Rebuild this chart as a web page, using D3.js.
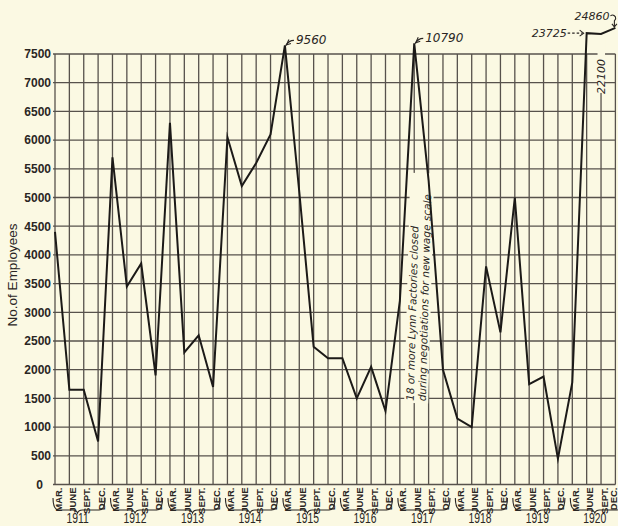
<!DOCTYPE html>
<html>
<head>
<meta charset="utf-8">
<script src="https://cdn.jsdelivr.net/npm/d3@7"></script>
<style>
  html, body { margin: 0; padding: 0; background: #fbf9e3; }
  svg { display: block; }
</style>
</head>
<body>
<svg id="chart" width="618" height="526"></svg>
<script>
// Quarterly number of employees, Lynn shoe factories, 1911-1920
const years = [1911, 1912, 1913, 1914, 1915, 1916, 1917, 1918, 1919, 1920];
const months = ["MAR.", "JUNE", "SEPT.", "DEC."];
const employees = [
  4400, 1650, 1650, 750,     // 1911
  5700, 3450, 3850, 1900,    // 1912
  6300, 2300, 2600, 1700,    // 1913
  6050, 5200, 5600, 6100,    // 1914
  9560, 5100, 2400, 2200,    // 1915
  2200, 1500, 2050, 1280,    // 1916
  3200, 10790, 5300, 2000,   // 1917
  1150, 1000, 3800, 2650,    // 1918
  5000, 1750, 1880, 450,     // 1919
  1780, 23725, 22100, 24860  // 1920
];
const yTicks = d3.range(0, 7501, 500);
const yTitle = "No.of Employees";
const noteLines = ["18 or more Lynn Factories closed", "during negotiations for new wage scale"];
const noteQuarter = "1917 JUNE";

const W = 618, H = 526;
const plotLeft = 55, plotRight = 615.4, plotTop = 54, plotBottom = 484.5;

const paper = "#fbf9e3", ink = "#2a2623", gridInk = "#57524c";

const quarters = [];
years.forEach(yr => months.forEach(m => quarters.push(yr + " " + m)));

const x = d3.scalePoint().domain(quarters).range([plotLeft, plotRight]);
const y = d3.scaleLinear().domain([0, 7500]).range([plotBottom, plotTop]);
// values above the grid are drawn in a compressed band over the top line
const yDraw = d3.scaleLinear()
  .domain([0, 7500, 9500, 11000, 22000, 24000, 25000])
  .range([y(0), y(7500), y(7500) - 8.5, y(7500) - 11, y(7500) - 20, y(7500) - 21, y(7500) - 27]);

const svg = d3.select("#chart");
svg.append("rect").attr("width", W).attr("height", H).attr("fill", paper);

// grid
const grid = svg.append("g").attr("stroke", gridInk).attr("stroke-width", 1.3);
grid.selectAll("line.h").data(yTicks).join("line").attr("class", "h")
  .attr("x1", plotLeft - 2).attr("x2", plotRight)
  .attr("y1", d => y(d)).attr("y2", d => y(d));
grid.selectAll("line.v").data(quarters).join("line").attr("class", "v")
  .attr("x1", d => x(d)).attr("x2", d => x(d))
  .attr("y1", plotTop).attr("y2", plotBottom);

// y axis labels
const yAxis = d3.axisLeft(y).tickValues(yTicks).tickSize(0).tickPadding(3).tickFormat(d3.format("d"));
const yg = svg.append("g").attr("transform", `translate(${plotLeft - 1},0)`).call(yAxis);
yg.select(".domain").remove();
yg.selectAll("text")
  .attr("font-family", "Liberation Sans, Arial, sans-serif")
  .attr("font-size", 12).attr("font-weight", "bold").attr("fill", ink)
  .attr("dx", d => d === 0 ? -8 : 0);

svg.append("text")
  .attr("transform", `translate(17,${y(3650)}) rotate(-90)`)
  .attr("text-anchor", "middle")
  .attr("font-family", "Liberation Sans, Arial, sans-serif")
  .attr("font-size", 13.5).attr("fill", ink)
  .text(yTitle);

// x axis: quarter labels
const xAxis = d3.axisBottom(x).tickSize(0).tickPadding(0).tickFormat(d => d.split(" ")[1]);
const xg = svg.append("g").attr("transform", `translate(0,${plotBottom})`).call(xAxis);
xg.select(".domain").remove();
xg.selectAll("text")
  .attr("font-family", "Liberation Sans, Arial, sans-serif")
  .attr("font-size", 9.5).attr("font-weight", "bold").attr("fill", ink)
  .attr("text-anchor", "end").attr("dy", null).attr("y", null)
  .attr("transform", (d, i) => `translate(${i === quarters.length - 1 ? 1.5 : 6},3) rotate(-90)`);

// year braces and labels
const yearG = svg.append("g");
years.forEach(yr => {
  const x0 = x(yr + " MAR."), x3 = x(yr + " DEC.");
  const l = x0 - 2, r = x3 + 7, c = (x0 + x3) / 2 + 1;
  yearG.append("path")
    .attr("d", `M${l},498 Q${l},510 ${l + 6},510 L${c - 5},510 Q${c - 1},510 ${c},513 Q${c + 1},510 ${c + 5},510 L${r - 6},510 Q${r},510 ${r},498`)
    .attr("fill", "none").attr("stroke", ink).attr("stroke-width", 1.1);
  yearG.append("text")
    .attr("transform", `translate(${c},523) scale(0.74,1)`)
    .attr("text-anchor", "middle")
    .attr("font-family", "Liberation Sans, Arial, sans-serif")
    .attr("font-size", 14).attr("fill", ink)
    .text(yr);
});

// note on the 1917 peak, with a paper ground over the grid
const nx = x(noteQuarter);
const note = svg.append("g").attr("transform", `translate(${nx - 0.5},401) rotate(-88.5)`);
note.append("rect").attr("x", -2).attr("y", -9.5).attr("width", 230).attr("height", 24).attr("fill", paper);
note.selectAll("text").data(noteLines).join("text")
  .attr("x", 0).attr("y", (d, i) => i * 12)
  .attr("font-family", "DejaVu Sans, sans-serif")
  .attr("font-style", "italic").attr("font-size", 10.5).attr("fill", ink)
  .text(d => d);

// off-scale value notes
const offScale = employees.map((v, i) => ({ v, q: quarters[i] })).filter(d => d.v > 7500);
const notes = svg.append("g");
const noteFont = sel => sel.attr("font-family", "DejaVu Sans, sans-serif")
  .attr("font-style", "italic").attr("fill", ink);

offScale.forEach((d, k) => {
  const px = x(d.q), py = yDraw(d.v), label = String(d.v);
  const g = notes.append("g").attr("fill", "none").attr("stroke", ink).attr("stroke-width", 1.1);
  if (k < 2) {
    g.append("path").attr("d", `M${px + 1},${py} Q${px + 4},${py - 5} ${px + 9},${py - 5}`);
    g.append("path").attr("d", `M${px + 4},${py - 6} L${px + 1.5},${py - 0.5} L${px + 6},${py - 2}`);
    notes.append("text").attr("x", px + 11).attr("y", py - 1).attr("font-size", 12).call(noteFont).text(label);
  } else if (d.v > 24000) {
    g.append("path").attr("d", `M${px - 5},${py - 12} q3,-2 5,1 q1,2 -1,4 L${px - 1},${py - 1}`);
    g.append("path").attr("d", `M${px - 3.5},${py - 4} L${px - 1},${py - 1} L${px + 1.5},${py - 4}`);
    notes.append("text").attr("x", px - 6).attr("y", py - 8).attr("text-anchor", "end")
      .attr("font-size", 11).call(noteFont).text(label);
  } else if (d.v < 23000) {
    notes.append("rect").attr("x", px - 3.5).attr("y", py + 4).attr("width", 7.5).attr("height", 55).attr("fill", paper);
    g.append("path").attr("d", `M${px},${py + 23} L${px},${py + 7}`).attr("stroke-dasharray", "2.5,2");
    g.append("path").attr("d", `M${px - 2.5},${py + 9} L${px},${py + 5.5} L${px + 2.5},${py + 9}`);
    notes.append("text").attr("transform", `translate(${px + 4},${py + 25}) rotate(-90)`)
      .attr("text-anchor", "end").attr("font-size", 11).call(noteFont).text(label);
  } else {
    g.append("path").attr("d", `M${px - 19},${py} L${px - 4},${py}`).attr("stroke-dasharray", "2.5,2");
    g.append("path").attr("d", `M${px - 7},${py - 3} L${px - 3},${py} L${px - 7},${py + 3}`);
    notes.append("text").attr("x", px - 20).attr("y", py + 4).attr("text-anchor", "end")
      .attr("font-size", 11).call(noteFont).text(label);
  }
});

// employee line
const line = d3.line()
  .x((d, i) => x(quarters[i]))
  .y(d => yDraw(d));
svg.append("path")
  .datum(employees)
  .attr("d", line)
  .attr("fill", "none")
  .attr("stroke", "#1c1a18")
  .attr("stroke-width", 2)
  .attr("stroke-linejoin", "miter")
  .attr("stroke-miterlimit", 6);
</script>
</body>
</html>
